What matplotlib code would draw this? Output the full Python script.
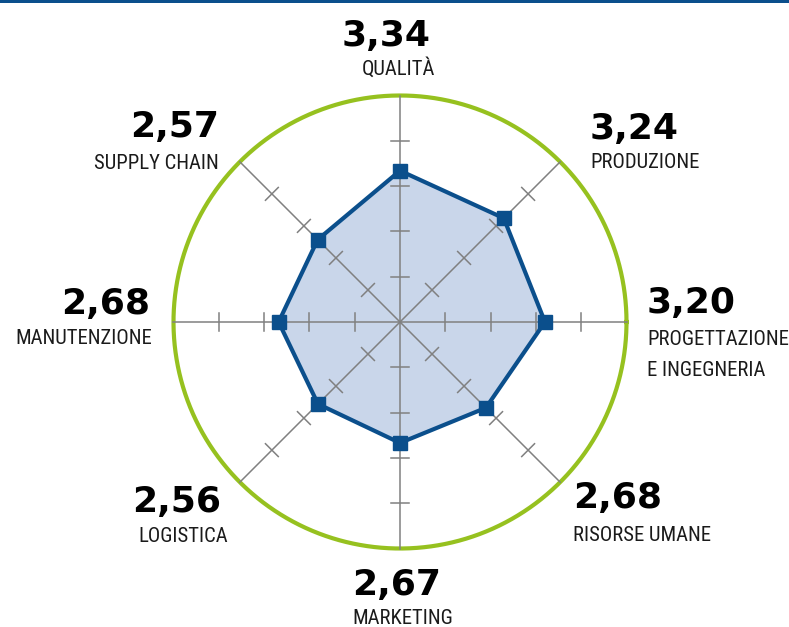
import numpy as np
import matplotlib
matplotlib.use("Agg")
import matplotlib.pyplot as plt
from matplotlib import font_manager
from matplotlib.font_manager import FontProperties

# dati
categorie = [["QUALITÀ"], ["PRODUZIONE"], ["PROGETTAZIONE", "E INGEGNERIA"], ["RISORSE UMANE"],
             ["MARKETING"], ["LOGISTICA"], ["MANUTENZIONE"], ["SUPPLY CHAIN"]]
valori = [3.34, 3.24, 3.20, 2.68, 2.67, 2.56, 2.68, 2.57]
scala = [1, 2, 3, 4]
r_max = 5

# colori
blu = "#0b4f8c"
riemp = "#c9d6ea"
verde = "#96c11f"
grigio = "#808080"

# cerca un font stretto per le categorie
font_cat = None
for f in font_manager.fontManager.ttflist:
    nm = f.name + " " + f.fname
    if ("Condensed" in nm or "Narrow" in nm) and f.weight in (300, 400, "normal", "light") \
            and f.style == "normal":
        if font_cat is None or "Open" in nm or ("Roboto" in nm and "Open" not in font_cat):
            font_cat = f.fname
fp_cat = FontProperties(fname=font_cat) if font_cat else FontProperties(family="Roboto")

W, H = 789, 627
cx, cy, unit = 400, 322, 45.3

fig = plt.figure(figsize=(W / 100, H / 100), dpi=100)
ax = fig.add_axes([0, 0, 1, 1])
ax.set_xlim(-cx / unit, (W - cx) / unit)
ax.set_ylim(-(H - cy) / unit, cy / unit)
ax.axis("off")

# dimensione del font: MANUTENZIONE largo circa 137 px come nel riferimento
prova = fig.text(0, 0, "MANUTENZIONE", fontproperties=fp_cat, fontsize=20)
rend = fig.canvas.get_renderer()
larg = prova.get_window_extent(rend).width
prova.remove()
size_cat = min(20 * 137 / larg, 19)

n = len(categorie)
ang = np.pi / 2 - np.arange(n) * 2 * np.pi / n   # senso orario dall'alto
ux, uy = np.cos(ang), np.sin(ang)

# cerchio esterno
t = np.linspace(0, 2 * np.pi, 400)
ax.plot(r_max * np.cos(t), r_max * np.sin(t), color=verde, lw=3, zorder=2)

# assi e tacche
for i in range(n):
    ax.plot([0, r_max * ux[i]], [0, r_max * uy[i]], color=grigio, lw=1.1, zorder=3)
    px, py = -uy[i], ux[i]
    for s in scala:
        x0, y0 = s * ux[i], s * uy[i]
        ax.plot([x0 - 0.2 * px, x0 + 0.2 * px], [y0 - 0.2 * py, y0 + 0.2 * py],
                color=grigio, lw=1.1, zorder=3)

# poligono
xs = np.array(valori) * ux
ys = np.array(valori) * uy
ax.fill(xs, ys, color=riemp, zorder=1)
ax.plot(np.append(xs, xs[0]), np.append(ys, ys[0]), color=blu, lw=3, zorder=4)
ax.plot(xs, ys, ls="none", marker="s", ms=9.5, color=blu, zorder=5)

# barra in alto
fig.add_artist(plt.Rectangle((0, 1 - 2.5 / H), 1, 2.5 / H, transform=fig.transFigure,
                             color=blu, lw=0))

# etichette: (x numero, baseline numero, x testo, baseline testo, allineamento)
pos = [
    (386, 46, 398, 75, "center"),
    (590, 139, 590, 168, "left"),
    (647, 313, 647, 345, "left"),
    (573, 508, 573, 541, "left"),
    (397, 595, 403, 624, "center"),
    (221, 512, 228, 542, "right"),
    (150, 314, 152, 344, "right"),
    (219, 137, 219, 169, "right"),
]
for (nx, ny, tx, ty, ha), righe, v in zip(pos, categorie, valori):
    fig.text(nx / W, 1 - ny / H, f"{v:.2f}".replace(".", ","), ha=ha, va="baseline",
             fontsize=26, fontweight="bold", family="DejaVu Sans", color="black")
    for k, riga in enumerate(righe):
        fig.text(tx / W, 1 - (ty + 31 * k) / H, riga, ha=ha, va="baseline",
                 fontproperties=fp_cat, fontsize=size_cat, color="#1a1a1a")

fig.savefig("out.png", dpi=100)
